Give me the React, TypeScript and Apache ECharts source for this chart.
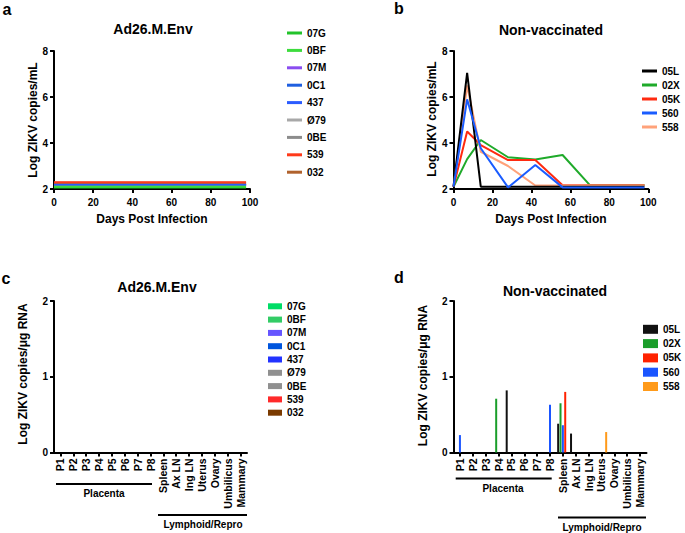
import React, { useEffect, useRef } from "react";
import * as echarts from "echarts";

const FONT = "'Liberation Sans', Arial, Helvetica, sans-serif";

// Panel a – Ad26.M.Env plasma viral load
const A_NAMES = ["07G", "0BF", "07M", "0C1", "437", "Ø79", "0BE", "539", "032"];
const A_COLORS = ["#22c32a", "#3ddc3d", "#8a4df0", "#1f5fe0", "#2b5cff", "#a8a8a8", "#8c8c8c", "#ff3a1a", "#b0622d"];
const A_DAYS = [0, 98];
const A_VALUES = [2.06, 2.1, 2.19, 2.2, 2.2, 2.18, 2.18, 2.29, 2.27];
const A_DRAW_ORDER = ["07M", "Ø79", "0BE", "0C1", "437", "07G", "0BF", "032", "539"];

// Panel b – Non-vaccinated plasma viral load
const B_DAYS = [0, 7, 14, 28, 42, 56, 70, 98];
const B_NAMES = ["05L", "02X", "05K", "560", "558"];
const B_05L = [2.1, 7.05, 2.1, 2.1, 2.1, 2.1, 2.1, 2.1];
const B_02X = [2.1, 3.3, 4.13, 3.38, 3.28, 3.48, 2.17, 2.17];
const B_05K = [2.1, 4.5, 3.91, 3.26, 3.26, 2.16, 2.16, 2.16];
const B_560 = [2.1, 5.9, 3.77, 2.07, 3.04, 2.07, 2.07, 2.07];
const B_558 = [2.1, 6.5, 3.62, 3.0, 2.15, 2.15, 2.15, 2.15];
const B_COLORS: Record<string, string> = { "05L": "#000000", "02X": "#1faa2a", "05K": "#ff2a10", "560": "#1a5cff", "558": "#ffa27a" };

// Panels c/d – tissue viral load
const TISSUES = ["P1", "P2", "P3", "P4", "P5", "P6", "P7", "P8", "Spleen", "Ax LN", "Ing LN", "Uterus", "Ovary", "Umbilicus", "Mammary"];
const C_NAMES = ["07G", "0BF", "07M", "0C1", "437", "Ø79", "0BE", "539", "032"];
const C_COLORS = ["#00dd66", "#33cc66", "#6655ff", "#0055dd", "#2233ff", "#909090", "#909090", "#ff2a2a", "#7a3a00"];
const C_VALUES = [0, 0, 0, 0, 0, 0, 0, 0, 0, 0, 0, 0, 0, 0, 0];

const D_05L = [0, 0, 0, 0, 0.82, 0, 0, 0, 0.38, 0.25, 0, 0, 0, 0, 0];
const D_02X = [0, 0, 0, 0.71, 0, 0, 0, 0, 0.65, 0, 0, 0, 0, 0, 0];
const D_560 = [0.23, 0, 0, 0, 0, 0, 0, 0.63, 0.36, 0, 0, 0, 0, 0, 0];
const D_05K = [0, 0, 0, 0, 0, 0, 0, 0, 0.8, 0, 0, 0, 0, 0, 0];
const D_558 = [0, 0, 0, 0, 0, 0, 0, 0, 0, 0, 0, 0.27, 0, 0, 0];
const D_COLORS: Record<string, string> = { "05L": "#111111", "02X": "#1a9e2a", "05K": "#ff2200", "560": "#1a55ff", "558": "#ff9a1a" };

const Y_NAME_LINE = "Log ZIKV copies/mL";
const Y_NAME_BAR = "Log ZIKV copies/μg RNA";

const bold = (size: number) => ({ color: "#000", fontWeight: "bold" as const, fontSize: size, fontFamily: FONT });

const axisLine = { show: true, onZero: false, lineStyle: { color: "#000", width: 2 } };
const axisTick = { show: true, length: 4, lineStyle: { color: "#000", width: 2 } };

function txt(text: string, x: number, y: number, size: number, rotation = 0) {
  return {
    type: "text",
    x,
    y,
    rotation,
    style: {
      text,
      fill: "#000",
      font: `bold ${size}px ${FONT}`,
      align: "center",
      verticalAlign: "middle",
      textAlign: "center",
      textVerticalAlign: "middle",
    },
  };
}

function hline(x1: number, x2: number, y: number) {
  return { type: "line", shape: { x1, y1: y, x2, y2: y }, style: { stroke: "#000", lineWidth: 2 } };
}

function lineOption(
  left: number,
  width: number,
  letter: [string, number, number],
  title: [string, number, number],
  yName: [number, number],
  series: any[],
  legend: any
) {
  return {
    animation: false,
    grid: { left, top: 51, width, height: 138, containLabel: false },
    xAxis: {
      type: "value",
      min: 0,
      max: 100,
      interval: 20,
      axisLine,
      axisTick,
      splitLine: { show: false },
      axisLabel: { ...bold(10), margin: 8 },
      name: "Days Post Infection",
      nameLocation: "middle",
      nameGap: 24,
      nameMoveOverlap: false,
      nameTextStyle: bold(12),
    },
    yAxis: {
      type: "value",
      min: 2,
      max: 8,
      interval: 2,
      axisLine,
      axisTick,
      splitLine: { show: false },
      axisLabel: { ...bold(10), margin: 6 },
    },
    legend,
    series,
    graphic: [
      txt(letter[0], letter[1], letter[2], 16),
      txt(title[0], title[1], title[2], 14),
      txt(Y_NAME_LINE, yName[0], yName[1], 12, Math.PI / 2),
    ],
  };
}

function barOption(
  left: number,
  letter: [string, number, number],
  title: [string, number, number],
  yName: [number, number],
  series: any[],
  legend: any,
  brackets: any[]
) {
  return {
    animation: false,
    grid: { left, top: 301, width: 193, height: 151.5, containLabel: false },
    xAxis: {
      type: "category",
      data: TISSUES,
      boundaryGap: true,
      axisLine,
      axisTick: { ...axisTick, alignWithLabel: true },
      axisLabel: { ...bold(10.5), rotate: 90, interval: 0, margin: 6 },
    },
    yAxis: {
      type: "value",
      min: 0,
      max: 2,
      interval: 1,
      axisLine,
      axisTick,
      splitLine: { show: false },
      axisLabel: { ...bold(10), margin: 6 },
    },
    legend,
    series,
    graphic: [
      txt(letter[0], letter[1], letter[2], 16),
      txt(title[0], title[1], title[2], 14),
      txt(Y_NAME_BAR, yName[0], yName[1], 12, Math.PI / 2),
      ...brackets,
    ],
  };
}

function legendCfg(left: number, top: number, itemWidth: number, itemHeight: number, itemGap: number, data: string[]) {
  return {
    orient: "vertical",
    left,
    top,
    padding: 0,
    itemWidth,
    itemHeight,
    itemGap,
    icon: "rect",
    selectedMode: false,
    textStyle: { ...bold(10), lineHeight: 12, padding: [0, 0, 0, 0] },
    data,
  };
}

function buildOptions() {
  const aSeries = A_DRAW_ORDER.map((n) => {
    const i = A_NAMES.indexOf(n);
    return {
      name: n,
      type: "line",
      showSymbol: false,
      symbol: "none",
      color: A_COLORS[i],
      lineStyle: { width: 2, color: A_COLORS[i] },
      data: A_DAYS.map((d) => [d, A_VALUES[i]]),
    };
  });

  const bData: Record<string, number[]> = { "05L": B_05L, "02X": B_02X, "05K": B_05K, "560": B_560, "558": B_558 };
  const bOrder = ["02X", "05K", "558", "05L", "560"];
  const bSeries = bOrder.map((n) => ({
    name: n,
    type: "line",
    showSymbol: false,
    symbol: "none",
    color: B_COLORS[n],
    lineStyle: { width: 2, color: B_COLORS[n] },
    data: B_DAYS.map((d, j) => [d, bData[n][j]]),
  }));

  const cSeries = C_NAMES.map((n, i) => ({
    name: n,
    type: "bar",
    color: C_COLORS[i],
    barWidth: 2,
    barGap: "17.5%",
    data: C_VALUES,
  }));

  const dData: Record<string, number[]> = { "05L": D_05L, "02X": D_02X, "05K": D_05K, "560": D_560, "558": D_558 };
  const dOrder = ["05L", "02X", "560", "05K", "558"];
  const dSeries = dOrder.map((n) => ({
    name: n,
    type: "bar",
    color: D_COLORS[n],
    barWidth: 2,
    barGap: "17.5%",
    data: dData[n],
  }));

  const a = lineOption(54, 196, ["a", 7, 9], ["Ad26.M.Env", 153, 29], [32.7, 120], aSeries, legendCfg(287, 27, 15, 3, 5.4, A_NAMES));
  const b = lineOption(453.5, 194.8, ["b", 399, 8], ["Non-vaccinated", 551, 30], [432.3, 119], bSeries, legendCfg(642, 65, 15, 3, 2, B_NAMES));
  const c = barOption(
    54,
    ["c", 6, 278],
    ["Ad26.M.Env", 157, 287],
    [23.3, 374],
    cSeries,
    legendCfg(268, 300.3, 14, 6, 1.3, C_NAMES),
    [hline(56, 152, 484), txt("Placenta", 104, 493.5, 10), hline(158, 247, 515), txt("Lymphoid/Repro", 203, 524.5, 10)]
  );
  const d = barOption(
    453.5,
    ["d", 399, 277],
    ["Non-vaccinated", 555, 291],
    [422.8, 375.5],
    dSeries,
    legendCfg(643, 323.3, 15, 9, 2.3, B_NAMES),
    [hline(455.7, 551.7, 478.5), txt("Placenta", 503, 488.5, 10), hline(558, 646, 517.5), txt("Lymphoid/Repro", 602, 527.5, 10)]
  );
  return [a, b, c, d];
}

export default function App() {
  const r0 = useRef<HTMLDivElement>(null);
  const r1 = useRef<HTMLDivElement>(null);
  const r2 = useRef<HTMLDivElement>(null);
  const r3 = useRef<HTMLDivElement>(null);

  useEffect(() => {
    const opts = buildOptions();
    const refs = [r0, r1, r2, r3];
    const charts = refs.map((r, i) => {
      const ch = echarts.init(r.current as HTMLDivElement, undefined, { renderer: "svg" });
      ch.setOption(opts[i] as any);
      return ch;
    });
    return () => charts.forEach((c) => c.dispose());
  }, []);

  const layer: React.CSSProperties = { position: "absolute", left: 0, top: 0, width: 685, height: 533 };
  return (
    <div style={{ position: "fixed", left: 0, top: 0, width: 685, height: 533, background: "#fff" }}>
      <div ref={r0} style={layer} />
      <div ref={r1} style={layer} />
      <div ref={r2} style={layer} />
      <div ref={r3} style={layer} />
    </div>
  );
}
